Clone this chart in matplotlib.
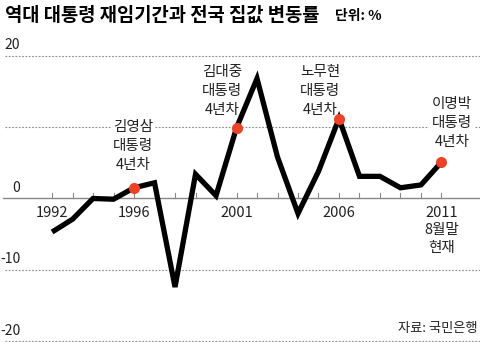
import matplotlib
matplotlib.use("Agg")
import matplotlib.pyplot as plt

plt.rcParams['font.family'] = ['Liberation Sans Narrow', 'Noto Sans CJK KR', 'DejaVu Sans']

years = list(range(1992, 2012))
change = [-4.7, -2.9, 0.0, -0.1, 1.5, 2.2, -12.4, 3.4, 0.4, 9.9,
          16.8, 5.8, -2.1, 3.8, 11.2, 3.1, 3.1, 1.5, 1.9, 5.1]

tick_years = [1992, 1996, 2001, 2006, 2011]
tick_labels = ["1992", "1996", "2001", "2006", "2011\n8월말\n현재"]

grid_values = [20, 10, -10, -20]
y_labels = [20, 0, -10, -20]

marked_years = [1996, 2001, 2006, 2011]
marked_names = ["김영삼\n대통령\n4년차", "김대중\n대통령\n4년차",
                "노무현\n대통령\n4년차", "이명박\n대통령\n4년차"]

fig = plt.figure(figsize=(4.8, 3.42), dpi=100)
ax = fig.add_axes([0, 0, 1, 1])
ax.set_xlim(1989.46, 2012.88)
ax.set_ylim(-20.1, 27.8)
ax.axis("off")

# grid and zero line
for g in grid_values:
    ax.plot([1989.7, 2012.88], [g, g], color="#888888", lw=0.8,
            linestyle=(0, (1.5, 1.5)), zorder=1)
ax.plot([1989.6, 2012.88], [0, 0], color="#888888", lw=1.0, zorder=1)
for yr in years:
    ax.plot([yr, yr], [0, 0.75], color="#888888", lw=0.8, zorder=1)

for v in y_labels:
    ax.text(1990.45, v + 0.5, str(v), ha="right", va="bottom", fontsize=10, color="#222222")

for yr, lab in zip(tick_years, tick_labels):
    ax.text(yr, -1.0, lab, ha="center", va="top", fontsize=10.5, color="#222222",
            linespacing=1.35)

ax.plot(years, change, color="black", lw=3.8, solid_joinstyle="miter",
        solid_capstyle="butt", zorder=3)

mark_vals = [change[years.index(y)] for y in marked_years]
ax.plot(marked_years, mark_vals, "o", color="#ef4123", ms=8, mec="none", zorder=4)

label_pos = [(1995.95, 7.3), (2000.29, 15.0), (2005.07, 15.0), (2011.5, 10.6)]
for (lx, ly), name in zip(label_pos, marked_names):
    ax.text(lx, ly, name, ha="center", va="center", fontsize=10.5, color="#222222",
            linespacing=1.45, zorder=2,
            bbox=dict(boxstyle="square,pad=0.15", fc="white", ec="none"))

fig.text(0.010, 0.955, "역대 대통령 재임기간과 전국 집값 변동률", fontsize=13.5,
         fontweight="bold", va="center", ha="left")
fig.text(0.697, 0.952, "단위: %", fontsize=10, fontweight="bold", va="center", ha="left")
fig.text(0.994, 0.04, "자료: 국민은행", fontsize=9.5, va="center", ha="right", color="#222222")

fig.savefig("out.png", dpi=100)
